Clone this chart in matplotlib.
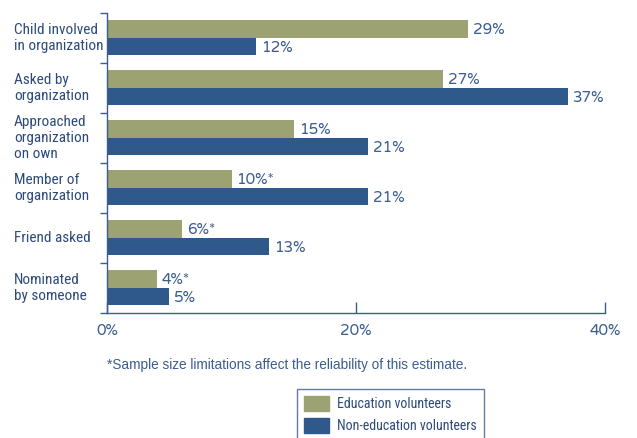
import matplotlib
matplotlib.use("Agg")
import matplotlib.pyplot as plt
import matplotlib.patches as mpatches
import numpy as np

# reasons for starting to volunteer, percent of volunteers
categories = ["Child involved\nin organization", "Asked by\norganization",
              "Approached\norganization\non own", "Member of\norganization",
              "Friend asked", "Nominated\nby someone"]
education = [29, 27, 15, 10, 6, 4]
non_education = [12, 37, 21, 21, 13, 5]
edu_flags = ["", "", "", "*", "*", "*"]
xticks = [0, 20, 40]

GREEN = "#9ca271"
BLUE = "#30598b"
TEXT = "#3b5d8f"
DARK = "#2c4a7a"
NARROW = ["Roboto Condensed", "DejaVu Sans"]
ROUND = ["Varela Round", "DejaVu Sans"]

fig = plt.figure(figsize=(6.37, 4.38), dpi=100)
fig.patch.set_facecolor("white")
ax = fig.add_axes([107 / 637, 1 - 313 / 438, (605 - 107) / 637, 300 / 438])

y = np.arange(len(categories))
h = 0.35
b1 = ax.barh(y + 0.32, education, height=h, color=GREEN, linewidth=0)
b2 = ax.barh(y + 0.67, non_education, height=h, color=BLUE, linewidth=0)

for bar, v, f in zip(b1, education, edu_flags):
    ax.text(v + 0.4, bar.get_y() + bar.get_height() / 2 + 0.03, f"{v}%{f}",
            va="center", ha="left", fontsize=11, color=TEXT, family=ROUND)
for bar, v in zip(b2, non_education):
    ax.text(v + 0.4, bar.get_y() + bar.get_height() / 2 + 0.03, f"{v}%",
            va="center", ha="left", fontsize=11, color=TEXT, family=ROUND)

ax.set_xlim(0, 40)
ax.set_ylim(len(categories), 0)
ax.set_xticks(xticks)
ax.set_xticklabels([f"{t}%" for t in xticks], fontsize=11, color=TEXT, family=ROUND)
ax.tick_params(axis="x", direction="in", length=8, width=1, color=TEXT, pad=8)
ax.set_yticks(np.arange(len(categories) + 1))
ax.set_yticklabels([])
ax.tick_params(axis="y", direction="out", length=5, width=1, color=TEXT)

for s in ["top", "right"]:
    ax.spines[s].set_visible(False)
for s in ["left", "bottom"]:
    ax.spines[s].set_color(TEXT)
    ax.spines[s].set_linewidth(1)

# category labels, left aligned at the figure edge
for i, c in enumerate(categories):
    fig.text(14 / 637, 1 - (13 + 50 * i + 25) / 438, c, ha="left", va="center",
             fontsize=11, color=DARK, family=NARROW, linespacing=1.15)

fig.text(107 / 637, 1 - 365 / 438,
         "*Sample size limitations affect the reliability of this estimate.",
         ha="left", va="center", fontsize=9.8, color=TEXT, family=["Liberation Sans", "DejaVu Sans"])

handles = [mpatches.Patch(color=GREEN, label="Education volunteers"),
           mpatches.Patch(color=BLUE, label="Non-education volunteers")]
leg = fig.legend(handles=handles, loc="upper left",
                 bbox_to_anchor=(297 / 637, 1 - 389 / 438),
                 frameon=True, fancybox=False, prop={"family": NARROW, "size": 10},
                 handlelength=1.8, handleheight=1.3, handletextpad=0.6,
                 labelspacing=0.5, borderpad=0.5, borderaxespad=0)
leg.get_frame().set_edgecolor(TEXT)
leg.get_frame().set_linewidth(1)
for t in leg.get_texts():
    t.set_color(DARK)

fig.savefig("out.png", dpi=100)
